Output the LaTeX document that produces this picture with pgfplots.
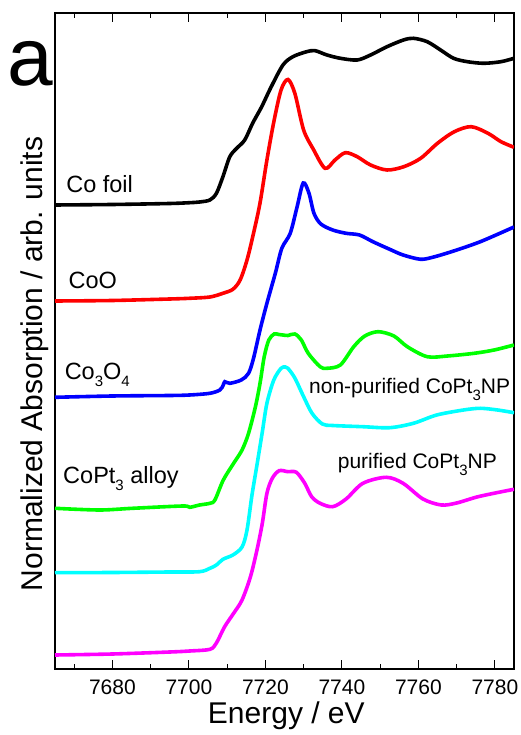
\documentclass[border=0pt]{standalone}
\usepackage{fontspec}
\setmainfont{Liberation Sans}
\usepackage{pgfplots}
\pgfplotsset{compat=1.18}
\definecolor{cC}{RGB}{0,255,255}
\definecolor{cM}{RGB}{255,0,255}
\definecolor{cG}{RGB}{0,255,0}
\definecolor{cR}{RGB}{255,0,0}
\definecolor{cB}{RGB}{0,0,255}
\newcommand{\sub}[1]{\raisebox{-7pt}{\fontsize{15}{15}\selectfont #1}}
\begin{document}
\begin{tikzpicture}
\begin{axis}[name=ax, scale only axis, width=459pt, height=656pt,
  xmin=7665, xmax=7785, ymin=0, ymax=656,
  clip mode=individual,
  xtick={7680,7700,7720,7740,7760,7780},
  xticklabels={7680,7700,7720,7740,7760,7780},
  minor xtick={7670,7690,7710,7730,7750,7770},
  ytick=\empty, minor ytick={16,56,...,656},
  tick align=inside,
  major tick length=9pt, minor tick length=5pt,
  axis line style={line width=1.3pt},
  every tick/.style={line width=1.2pt, black},
  xticklabel style={font=\fontsize{21}{21}\selectfont, inner sep=0pt, yshift=-11pt},
  xlabel={Energy / eV},
  xlabel style={at={(axis description cs:0.504,-0.0838)}, anchor=base, font=\fontsize{30}{30}\selectfont},
  ylabel={Normalized Absorption / arb. units},
  ylabel style={at={(axis description cs:-0.0283,0.465)}, anchor=base, rotate=0, font=\fontsize{30}{30}\selectfont},
  every axis plot/.append style={line width=3.6pt, smooth, tension=0.5},
]
\addplot[black] coordinates {(7665,464) (7680,464.5) (7695,465.5) (7700.2,466.3) (7702.8,467) (7705.5,469) (7707.2,475.7) (7708.9,492.3) (7710.7,512.3) (7712.5,520.7) (7714.6,529) (7716.7,546) (7719.0,562) (7721.5,582) (7724.6,604) (7727.2,612.3) (7730.8,617.3) (7733,618.3) (7736.1,614) (7739.6,610.7) (7744,609) (7747.5,614) (7751.8,622.3) (7756.1,629) (7758.7,630.7) (7762.3,627.3) (7765.8,619) (7769.2,610.7) (7772.8,607.3) (7777.1,605.7) (7781.6,607.3) (7785,610.7)};
\addplot[cR] coordinates {(7665,368) (7680,368.5) (7695,370) (7700.2,370.7) (7705.5,372) (7708.9,375.7) (7711.5,379.7) (7713.4,389) (7715.2,409) (7716.9,435.7) (7718.6,466) (7720.4,509) (7722.2,547) (7724.1,579) (7725.9,589.5) (7727.7,575.7) (7730.0,539) (7732.5,520) (7735.6,500.7) (7738.2,509) (7740.9,516.3) (7744.0,512.3) (7747.5,504) (7751.8,499) (7756.2,502.3) (7760.6,510.7) (7765.0,525.7) (7769.4,537.3) (7773.8,542.3) (7778.2,535.7) (7781.6,527.3) (7785,521.7)};
\addplot[cB] coordinates {(7665,271.7) (7680,273) (7695,273.5) (7700.2,274) (7705.5,275.7) (7708.1,279) (7709.0,284) (7709.4,287.3) (7710.7,285.7) (7713.7,289) (7715.6,295.7) (7716.9,310.7) (7718.6,339) (7720.4,365.7) (7722.6,395.7) (7724.3,420.7) (7726.5,435.7) (7728.3,462.3) (7729.9,486) (7731.4,475.7) (7732.7,455.7) (7734.5,445) (7737.6,439) (7741.1,435.7) (7744.6,434) (7748.1,427.3) (7752.5,419.7) (7756,414) (7760.6,409.7) (7764,412) (7768,416.5) (7772,421.5) (7776,427) (7780,433.5) (7785,442)};
\addplot[cG] coordinates {(7665,160.7) (7676.6,159) (7685.3,160.7) (7698.4,163) (7700.2,161.7) (7702.8,164) (7705.5,165.7) (7706.8,169) (7709,189) (7711.7,205.7) (7713.9,219) (7715.6,235.7) (7717.4,262.3) (7718.6,285.7) (7719.7,312.3) (7720.9,329) (7722.3,335) (7723.5,334.5) (7724.6,334) (7725.9,333.5) (7727.7,335) (7729.4,329) (7731.2,315.7) (7734.3,302.3) (7736.1,300.7) (7739.6,304) (7743.1,322.3) (7746,333) (7749.5,337.3) (7753.6,333) (7757.1,322.3) (7762.3,312.3) (7767.6,313) (7774.6,315.7) (7779.8,319) (7785,324)};
\addplot[cC] coordinates {(7665,96.3) (7680,96.5) (7695,97) (7702.8,97.3) (7705.5,100.7) (7707.2,104) (7708.9,109.7) (7711.5,114) (7713.9,122) (7715.2,139) (7716.5,174) (7717.8,204) (7719.2,237) (7720.4,265.7) (7722.2,289) (7724.1,300.7) (7725.2,302) (7725.9,300.7) (7727.7,291) (7730,272.3) (7732.2,255.7) (7734.9,245) (7737.6,243.5) (7745.5,242.3) (7752.5,241.3) (7758.7,245.7) (7764.8,254) (7771.8,259) (7776.2,260.7) (7780.7,259) (7785,256.3)};
\addplot[cM] coordinates {(7665,14) (7680,15) (7695,17) (7700.2,18) (7705.5,19.7) (7707.2,26) (7709.3,42) (7711.7,55.7) (7713.9,69) (7716.1,92.3) (7717.8,119) (7719.2,145.7) (7720.4,175.7) (7721.8,190.7) (7723.6,198.3) (7725.9,197.3) (7728.1,196.7) (7730.3,185.7) (7732.1,172.3) (7734.3,165.7) (7737.6,162.3) (7741.1,170) (7745.5,185.7) (7751.6,191.7) (7756,185.7) (7761.2,170) (7766,164) (7770,166) (7775.3,172) (7780.5,176.3) (7785,179.7)};
\begin{scope}[every node/.style={anchor=base west, inner sep=0pt, font=\fontsize{23.5}{24}\selectfont}]
\node at (axis cs:7667.9,476.3) {Co foil};
\node at (axis cs:7668.5,380.7) {CoO};
\node at (axis cs:7667.5,289) {Co\sub{3}O\sub{4}};
\node at (axis cs:7667.1,185.7) {CoPt\sub{3} alloy};
\end{scope}
\begin{scope}[every node/.style={anchor=base west, inner sep=0pt, font=\fontsize{21}{22}\selectfont}]
\node at (axis cs:7731.4,275.7) {non-purified CoPt\sub{3}NP};
\node at (axis cs:7738.9,200.7) {purified CoPt\sub{3}NP};
\end{scope}
\node[anchor=base west, inner sep=0pt, font=\fontsize{82}{82}\selectfont] at (axis description cs:-0.1046,0.890) {a};
\end{axis}
\pgfresetboundingbox
\path[use as bounding box] (ax.south west) ++(-55pt,-66pt) rectangle ++(521pt,735pt);
\end{tikzpicture}
\end{document}
